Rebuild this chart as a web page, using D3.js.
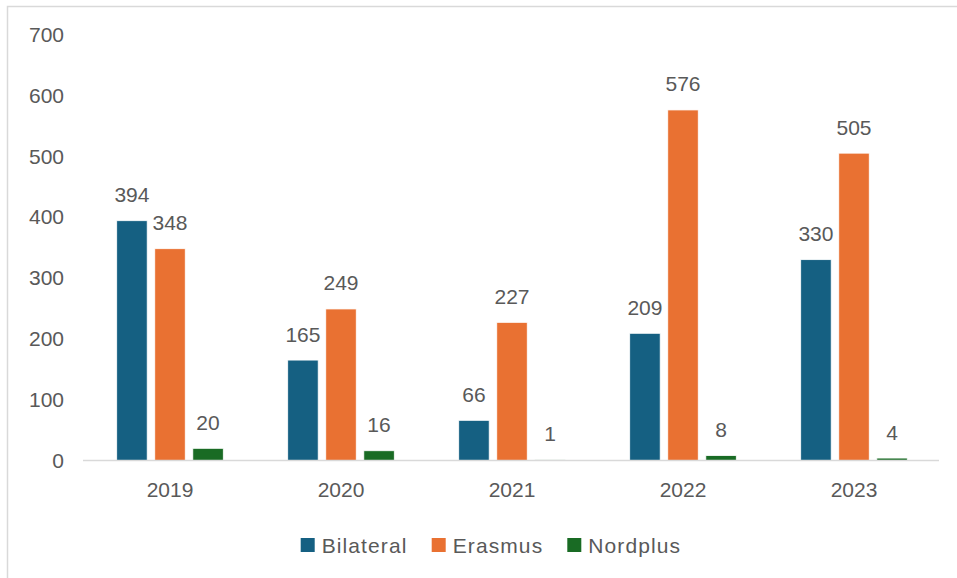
<!DOCTYPE html>
<html>
<head>
<meta charset="utf-8">
<script src="https://cdn.jsdelivr.net/npm/d3@7"></script>
<style>
  body { margin: 0; background: #fff; }
  svg text { font-family: "Liberation Sans", Arial, sans-serif; fill: #595959; }
</style>
</head>
<body>
<div id="chart"></div>
<script>
// data
var years = ["2019", "2020", "2021", "2022", "2023"];
var seriesNames = ["Bilateral", "Erasmus", "Nordplus"];
var bilateral = [394, 165, 66, 209, 330];
var erasmus = [348, 249, 227, 576, 505];
var nordplus = [20, 16, 1, 8, 4];
var yTicks = [0, 100, 200, 300, 400, 500, 600, 700];
var colors = ["#156082", "#E97132", "#196B24"];

var W = 957, H = 578;
var values = [bilateral, erasmus, nordplus];

var svg = d3.select("#chart").append("svg")
    .attr("width", W)
    .attr("height", H);

// outer chart border (runs off right and bottom edges)
svg.append("rect")
    .attr("x", 7.5).attr("y", 6.5)
    .attr("width", W + 20).attr("height", H + 20)
    .attr("fill", "none")
    .attr("stroke", "#d9d9d9")
    .attr("stroke-width", 1.5);

var x0 = d3.scaleBand()
    .domain(years)
    .range([84.5, 939.5])
    .paddingInner(0.377)
    .paddingOuter(0.1885);

var x1 = d3.scaleBand()
    .domain(seriesNames)
    .range([0, x0.bandwidth()])
    .paddingInner(0.2)
    .paddingOuter(0);

var y = d3.scaleLinear()
    .domain([0, 700])
    .range([460.5, 34.5]);

// y tick labels
svg.selectAll(".ylab")
    .data(yTicks)
    .enter().append("text")
    .attr("class", "ylab")
    .attr("x", 64)
    .attr("y", function(d){ return y(d) })
    .attr("dy", "0.35em")
    .attr("text-anchor", "end")
    .attr("font-size", 21)
    .text(function(d){ return d });

// bars
var groups = svg.selectAll(".grp")
    .data(years)
    .enter().append("g")
    .attr("class", "grp")
    .attr("transform", function(d){ return "translate(" + x0(d) + ",0)" });

groups.each(function(yr, i){
    var g = d3.select(this);
    seriesNames.forEach(function(s, k){
        var v = values[k][i];
        g.append("rect")
            .attr("x", x1(s))
            .attr("y", y(v))
            .attr("width", x1.bandwidth())
            .attr("height", y(0) - y(v))
            .attr("fill", colors[k])
            .attr("stroke", "#fff")
            .attr("stroke-width", 0.75);
        g.append("text")
            .attr("x", x1(s) + x1.bandwidth() / 2)
            .attr("y", y(v) - 18.5)
            .attr("text-anchor", "middle")
            .attr("font-size", 21)
            .text(v);
    });
});

// baseline
svg.append("line")
    .attr("x1", 83).attr("x2", 939)
    .attr("y1", y(0)).attr("y2", y(0))
    .attr("stroke", "#d9d9d9")
    .attr("stroke-width", 1.5);

// x labels
svg.selectAll(".xlab")
    .data(years)
    .enter().append("text")
    .attr("class", "xlab")
    .attr("x", function(d){ return x0(d) + x0.bandwidth() / 2 })
    .attr("y", 497)
    .attr("text-anchor", "middle")
    .attr("font-size", 21)
    .text(function(d){ return d });

// legend
var legX = [300.7, 431.7, 567.3];
var leg = svg.selectAll(".leg")
    .data(seriesNames)
    .enter().append("g")
    .attr("class", "leg")
    .attr("transform", function(d, i){ return "translate(" + legX[i] + ",538)" });

leg.append("rect")
    .attr("width", 14).attr("height", 14)
    .attr("fill", function(d, i){ return colors[i] });

leg.append("text")
    .attr("x", 21)
    .attr("y", 14.5)
    .attr("font-size", 21)
    .attr("letter-spacing", 1.1)
    .text(function(d){ return d });
</script>
</body>
</html>
